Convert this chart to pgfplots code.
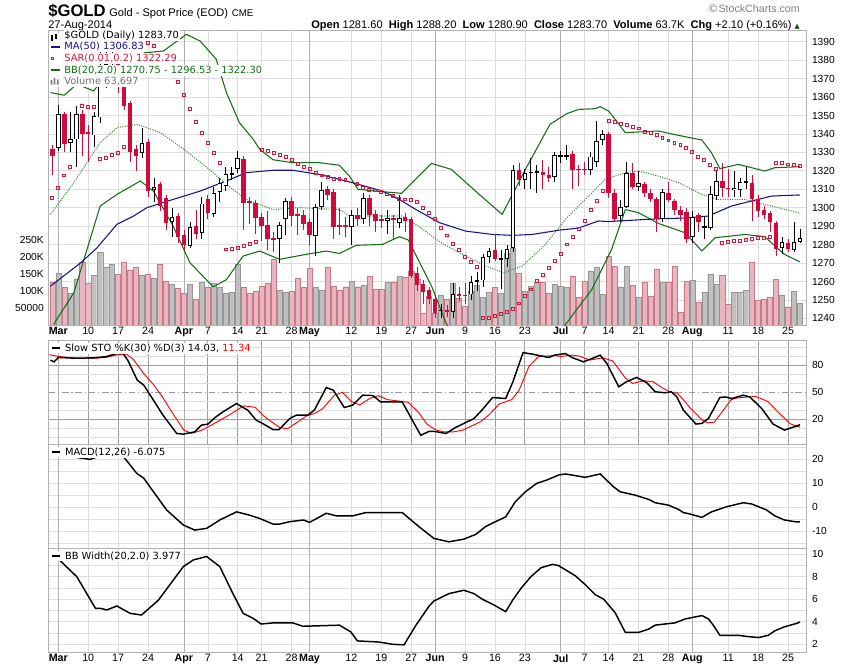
\documentclass[border=0pt]{standalone}
\usepackage{pgfplots}
\usepackage{pgfplotstable}
\pgfplotsset{compat=1.18}
\usepackage{fontspec}
\setmainfont{Liberation Sans}
\newfontfamily\dv{DejaVu Sans}
\definecolor{cred}{RGB}{210,10,60}
\definecolor{sarred}{RGB}{220,20,60}
\definecolor{bbgreen}{RGB}{20,110,20}
\definecolor{manavy}{RGB}{20,20,140}
\definecolor{gridc}{RGB}{222,222,222}
\definecolor{monthc}{RGB}{175,175,175}
\definecolor{volg}{RGB}{192,192,192}
\definecolor{volgd}{RGB}{150,150,150}
\definecolor{volp}{RGB}{232,182,190}
\definecolor{volpd}{RGB}{200,120,135}
\pgfplotstableread{
i o h l c v
0 1332 1334 1318 1328 127
1 1332.5 1355.5 1330.7 1350.6 154
2 1350.6 1352 1330 1334.4 112
3 1335.3 1352 1330 1337 94
4 1337 1355 1322 1350.6 135
5 1351 1353 1328 1339.8 185
6 1340.7 1345 1325 1340.5 123
7 1339.2 1352 1333 1349.7 147
8 1349 1385 1346 1368 215
9 1368 1385 1365 1378 171
10 1378 1392 1374 1382 179
11 1382 1384 1362 1367 150
12 1367 1369 1353 1355.2 185
13 1356.6 1358 1325 1330.2 162
14 1332 1334 1320 1328 171
15 1329.5 1343 1327 1335 147
16 1335.6 1337 1306 1309 150
17 1309.6 1316 1303 1311.4 138
18 1312.7 1314 1298 1301 179
19 1305.4 1307 1288 1291.5 129
20 1292.4 1300 1284 1295.1 120
21 1295.3 1297 1281 1284.3 109
22 1285 1288 1277 1279.6 94
23 1279.2 1292 1278 1289.7 120
24 1290 1299 1283 1286 76
25 1286.4 1306 1283 1302.2 126
26 1304.5 1307 1294 1296.9 112
27 1296.7 1311 1295 1308.1 123
28 1308.5 1316 1303 1313.2 112
29 1311.8 1322 1309 1318.4 94
30 1318.3 1322 1315 1318.6 97
31 1321 1331 1319 1327 179
32 1326.6 1328 1288 1302.7 112
33 1303.6 1306 1291 1302.4 94
34 1302.4 1304 1286 1294.6 100
35 1295 1297 1282 1290 115
36 1290.4 1298 1277 1283.2 123
37 1283.2 1287 1276 1283 194
38 1283 1292 1270 1290.8 103
39 1294 1305 1285 1303.6 97
40 1303.6 1306 1290 1295.5 100
41 1296.4 1300 1285 1295.5 138
42 1295.8 1299 1288 1291 112
43 1292 1294 1280 1285 168
44 1284.6 1302 1274 1300.5 112
45 1300.5 1314 1299 1309.6 103
46 1310 1312 1304 1307 171
47 1308.5 1310 1283 1289.5 115
48 1290.5 1300 1285 1290 103
49 1290.5 1295 1284 1290 113
50 1289.5 1299 1280 1295.8 129
51 1295.8 1300 1290 1294 113
52 1294 1308 1291 1305.4 118
53 1305.4 1307 1290 1295.8 144
54 1296.4 1299 1287 1292.8 105
55 1293.5 1296 1289 1293.3 105
56 1292.8 1299 1286 1294.6 125
57 1294 1296 1283 1293.7 125
58 1291.9 1307 1289 1294.2 144
59 1295 1297 1287 1292.8 142
60 1293.7 1295 1262 1263 160
61 1264.7 1268 1255 1257.9 134
62 1258.4 1261 1248 1254.3 36
63 1255.3 1257 1248 1250.6 85
64 1250.3 1252 1240 1242.7 36
65 1244.4 1248 1240 1244.5 88
66 1244.8 1247 1241 1243.4 76
67 1243.4 1259 1240 1253.3 123
68 1253.3 1257 1249 1252 78
69 1252.6 1259 1248 1252.4 56
70 1253 1263 1250 1259.7 101
71 1260.4 1265 1255 1260.6 118
72 1260.6 1275 1257 1273.4 81
73 1273.4 1278 1270 1276.5 98
74 1276.9 1286 1271 1272 111
75 1272.3 1277 1256 1272.3 93
76 1272.3 1280 1268 1277.8 211
77 1278.3 1323 1276 1320.4 226
78 1320.4 1324 1312 1315 154
79 1315 1321 1310 1318.6 101
80 1319 1327 1310 1319.3 115
81 1319.3 1323 1308 1319.3 127
82 1319.3 1326 1310 1317.5 125
83 1317.5 1322 1314 1316.3 95
84 1316.8 1330 1314 1328.4 121
85 1327.7 1331 1324 1328.4 115
86 1327.7 1334 1326 1328.4 111
87 1329 1331 1310 1320.4 144
88 1321 1323 1312 1320.8 83
89 1321 1325 1318 1320.6 129
90 1320.4 1330 1318 1327.7 160
91 1324.8 1347 1322 1336.2 172
92 1336.7 1342 1334 1340.1 91
93 1339.8 1341 1305 1308 203
94 1308 1310 1293 1293.7 174
95 1295.5 1304 1292 1300.5 113
96 1300.5 1325 1300 1319 174
97 1319 1324 1310 1311.4 118
98 1311.4 1320 1309 1313.2 83
99 1312.7 1314 1306 1308.1 125
100 1308.1 1310 1303 1304.5 85
101 1304.5 1306 1287 1294 166
102 1294 1310 1292 1308.5 125
103 1308 1314 1303 1304.2 125
104 1303.6 1305 1296 1298.7 174
105 1299 1301 1293 1295.8 39
106 1297.6 1300 1281 1283.2 129
107 1284.3 1298 1281 1295.1 132
108 1295.8 1297 1287 1292.2 66
109 1289.5 1295 1283 1289.5 97
110 1289.1 1312 1288 1307.2 150
111 1306.3 1320 1304 1314.5 121
112 1314.5 1324 1306 1310.8 147
113 1310.6 1321 1306 1310.3 62
114 1309.4 1320 1306 1310.5 97
115 1309.6 1316 1306 1313.9 97
116 1313.9 1322 1310 1313.9 103
117 1313.6 1318 1293 1304.9 185
118 1304.5 1307 1295 1298.2 74
119 1299 1301 1294 1295.8 76
120 1297.3 1298 1287 1292.2 83
121 1291.9 1293 1274 1277.4 136
122 1278.3 1284 1275 1281.4 89
123 1281 1283 1276 1277.4 54
124 1277.1 1292 1276 1281.4 100
125 1281.6 1288.2 1280.9 1283.7 64
}\ohlc
\pgfplotsset{
 isdown/.style={x filter/.expression={\thisrow{c}<\thisrow{o} ? x : nan}},
 isup/.style={x filter/.expression={\thisrow{c}<\thisrow{o} ? nan : x}},
 panel/.style={scale only axis, width=568.1pt, xmin=-0.64, xmax=126,
   axis line style={draw=gray!60}, tick style={draw=none},
   xtick={1,6,11,16,22,26,31,35,40,43,50,55,60,64,69,74,79,85,89,93,98,103,107,113,118,123},
   xticklabels={},
   yticklabel pos=right,
   ticklabel style={font=\fontsize{7.7}{9}\selectfont},
   /pgf/number format/assume math mode=true,
   /pgf/number format/1000 sep={},
   grid style={draw=gridc, line width=0.5pt},
   minor grid style={draw=gridc, line width=0.5pt},
   xmajorgrids, ymajorgrids,
   extra x ticks={1,22,43,64,85,107}, extra x tick labels={},
   extra x tick style={grid style={draw=monthc, line width=0.6pt}},
 },
 datelabels/.style={xticklabels={\textbf{Mar},10,17,24,\textbf{Apr},7,14,21,28,\textbf{May},12,19,27,\textbf{Jun},9,16,23,\textbf{Jul},7,14,21,28,\textbf{Aug},11,18,25},
   xticklabel style={font=\fontsize{8}{9}\selectfont, yshift=2pt}},
 wick/.style={draw=none, mark=none, forget plot, error bars/.cd, y dir=both, y explicit, error mark=none, error bar style={line width=0.55pt, draw=#1}},
 body/.style 2 args={draw=none, mark=none, forget plot, error bars/.cd, y dir=both, y explicit, error mark=none, error bar style={line width=#2, draw=#1}},
}
\begin{document}
\begin{tikzpicture}
\useasboundingbox (0,0) rectangle (637.5pt,-501pt);
% ---------- main grid
\begin{axis}[panel, at={(36.375pt,-243.75pt)}, anchor=south west, height=220.9pt,
  ymin=1236.4, ymax=1396.1, ytick={1240,1250,...,1390}, datelabels, yticklabel style={xshift=1pt}]
\end{axis}
% ---------- volume
\begin{axis}[scale only axis, width=568.1pt, height=220.9pt, at={(36.375pt,-243.75pt)}, anchor=south west,
  xmin=-0.64, xmax=126, ymin=0, ymax=870, axis lines=none, clip=true]
\addplot[isup, ybar, bar width=0.85, bar shift=0pt, fill=volg, draw=volgd, line width=0.3pt] table[x=i,y=v]{\ohlc};
\addplot[isdown, ybar, bar width=0.85, bar shift=0pt, fill=volp, draw=volpd, line width=0.3pt] table[x=i,y=v]{\ohlc};
\end{axis}
\begin{axis}[scale only axis, width=568.1pt, height=220.9pt, at={(36.375pt,-243.75pt)}, anchor=south west,
  xmin=-0.64, xmax=126, ymin=0, ymax=870, axis line style={draw=none}, tick style={draw=none}, xtick=\empty,
  ytick={50,100,150,200,250}, yticklabels={50000,100K,150K,200K,250K}, yticklabel pos=left,
  ticklabel style={font=\fontsize{7.7}{9}\selectfont}]
\end{axis}
% ---------- price
\begin{axis}[scale only axis, width=568.1pt, height=220.9pt, at={(36.375pt,-243.75pt)}, anchor=south west,
  xmin=-0.64, xmax=126, ymin=1236.4, ymax=1396.1, axis line style={draw=gray!60}, xtick=\empty, ytick=\empty, clip=true]
\addplot[bbgreen, line width=0.8pt] coordinates {(-0.3,1362.4)(2,1361)(4.1,1367)(6.9,1363.3)(9.1,1372.3)(12,1380)(15.5,1384)(18.6,1385)(22.4,1394)(24.7,1390.4)(27.4,1380.5)(29.1,1362.4)(31.3,1346)(33.6,1337)(34.7,1331.6)(36.9,1326)(40.2,1324.4)(44.7,1324.4)(48,1323)(49.7,1317)(51.1,1310)(54.1,1309)(58.4,1307.8)(63.4,1324)(66.7,1320.8)(71.1,1308)(75.2,1296.4)(79.4,1322.6)(83.2,1345.2)(86,1351)(88,1353.3)(90.8,1353.7)(91.6,1354.8)(93,1352.4)(95.8,1340.7)(101.3,1341.6)(104.7,1339.2)(108.6,1336.7)(110.2,1329.8)(111.6,1321.2)(114.7,1323.5)(119.1,1319.9)(120.8,1321.7)(124.7,1322.2)(125,1322.3)};
\addplot[bbgreen, line width=0.8pt] coordinates {(0.2,1236.7)(3.6,1253.9)(8,1300.9)(10.8,1307.2)(14.7,1314.5)(16.9,1309)(20.2,1290)(23,1270.2)(26.9,1257.1)(29.1,1261)(31.9,1273.8)(34.7,1276.5)(38,1272)(42.4,1274.7)(45.8,1276.5)(48,1275.2)(50.8,1279.6)(55.2,1280.1)(58,1284.3)(59.5,1282.5)(63.4,1257.5)(65.8,1237.6)(68,1225)(80,1210)(85.8,1236.7)(90.2,1255.7)(93.5,1277.4)(95.8,1299)(98,1297.3)(101.3,1291.5)(105.8,1286.4)(108.6,1276.5)(110.8,1283.7)(115.8,1285.5)(119.1,1284.3)(122.4,1274.7)(124.7,1271.1)(125,1270.75)};
\addplot[bbgreen!80, line width=0.8pt, densely dotted] coordinates {(-0.3,1296.4)(3.6,1313.6)(8,1335.3)(10.8,1343.4)(14.2,1345.2)(18.1,1340.7)(22,1331.6)(25.9,1321.7)(29.1,1312.7)(32.4,1304.5)(36.9,1299)(41.3,1300)(48,1299)(49.7,1295.5)(58.4,1295.5)(61.2,1290)(65,1281)(69.1,1273.8)(72.4,1268.4)(75.5,1264.7)(78.6,1268.4)(82.4,1280)(85.8,1293.7)(88,1301)(90.2,1308)(92.4,1315.4)(95.8,1319)(98,1319.9)(101.3,1317.2)(104.7,1313.6)(108.6,1307.2)(111.3,1304.5)(115.8,1304.5)(119.1,1301.8)(124.7,1297.3)(125,1296.5)};
\addplot[manavy, line width=0.8pt] coordinates {(-0.3,1257.5)(4.7,1270)(7.4,1278)(10.8,1291)(13.6,1295.5)(15.8,1300)(20.2,1304.5)(24.7,1309)(29.1,1314.5)(32.4,1319)(36.9,1320.3)(40.2,1320.3)(44.7,1318)(48,1315.4)(50.8,1313)(55.2,1309)(58,1304.5)(60.8,1299)(64.7,1291.9)(69.1,1287.3)(73.6,1285.5)(76.9,1285)(80.2,1285.5)(84.7,1287.8)(88,1289)(91.3,1292.8)(93,1292.5)(101.3,1294)(105.8,1294.4)(109.7,1295.5)(113.6,1301)(118,1304.5)(120.2,1306.3)(124.7,1306.9)(125,1306.83)};
\addplot[only marks, mark=square, mark size=1.1pt, mark options={draw=sarred, fill=white, line width=0.6pt}] coordinates {
(0,1305.4)(1,1310.8)(2,1317.5)(3,1322.2)(5,1355.2)(6,1354.8)(7,1354.8)(8,1326.6)(9,1327.1)(10,1328.4)(11,1329.8)(12,1333.1)
(16,1389.5)(17,1387.7)(19,1379.6)(21,1368.4)(22,1361.1)(23,1353.7)(24,1346.5)(25,1340.7)(26,1334.9)(27,1329.5)(28,1324.4)
(29,1277.4)(30,1277.8)(31,1278.3)(32,1279.2)(33,1280.5)(34,1281.4)
(35,1331.3)(36,1330.7)(37,1329.8)(38,1328.6)(39,1327.7)(40,1325.9)(41,1323.9)(42,1322.1)(43,1320.8)(44,1319)(45,1317.5)(46,1316.6)(47,1315.7)(48,1315.4)(49,1315)(51,1313)(52,1310.8)(53,1309.9)(54,1309.4)(55,1308.5)(56,1307.2)(57,1306.3)(58,1304.9)(59,1304.5)(60,1304.2)(61,1303.1)(62,1300)(63,1297.3)(64,1293.7)(65,1289.2)(66,1285)(67,1280.5)(68,1277)(69,1273.4)(70,1270.7)(71,1268)
(72,1240.3)(73,1240.3)(74,1241.2)(75,1242.5)(76,1243.6)(77,1245.2)(78,1248.1)(79,1252.1)(80,1255.7)(81,1260.2)(82,1263.8)(83,1267.4)(84,1271.1)(85,1275.2)(86,1280.1)(87,1284.3)(88,1288.6)(89,1292.8)(90,1298.7)(91,1303.6)(92,1309)
(93,1347)(94,1346.5)(95,1345.6)(96,1344.7)(97,1343.9)(98,1343)(99,1341.2)(100,1340.7)(101,1339.4)(102,1338)(103,1336.5)(104,1334.9)(105,1334)(106,1332.2)(107,1330.4)(108,1327.7)(109,1325.7)(110,1323.1)(111,1321.2)
(112,1281)(113,1281.4)(114,1282.1)(115,1282.1)(116,1282.5)(117,1283.2)(118,1283.7)(119,1283.7)(120,1284.3)
(121,1324.4)(122,1324.1)(123,1323.5)(124,1323.1)(125,1322.6)};
% candles
\addplot[isup, wick=black] table[x=i, y expr={(\thisrow{h}+\thisrow{l})/2}, y error expr={(\thisrow{h}-\thisrow{l})/2}]{\ohlc};
\addplot[isdown, wick=cred] table[x=i, y expr={(\thisrow{h}+\thisrow{l})/2}, y error expr={(\thisrow{h}-\thisrow{l})/2}]{\ohlc};
\addplot[isdown, body={cred}{3.4pt}] table[x=i, y expr={(\thisrow{o}+\thisrow{c})/2}, y error expr={max(abs(\thisrow{o}-\thisrow{c})/2,0.35)}]{\ohlc};
\addplot[isup, body={black}{3.4pt}] table[x=i, y expr={(\thisrow{o}+\thisrow{c})/2}, y error expr={max(abs(\thisrow{o}-\thisrow{c})/2,0.35)}]{\ohlc};
\addplot[isup, body={white}{2pt}] table[x=i, y expr={(\thisrow{o}+\thisrow{c})/2}, y error expr={max(abs(\thisrow{o}-\thisrow{c})/2-0.45,0)}]{\ohlc};
\end{axis}
% ---------- STO
\begin{axis}[panel, at={(36.375pt,-333pt)}, anchor=south west, height=77.8pt,
  ymin=-7.4, ymax=108, ytick={20,80}, grid style={draw=gray!75, line width=0.6pt},
  minor ytick={0,10,30,40,60,70,90,100}, yminorgrids,
  extra y ticks={50}, extra y tick style={grid style={draw=gray!80, dash pattern=on 5pt off 2pt on 1pt off 2pt, line width=0.6pt}},
  yticklabel style={xshift=1pt}]
\addplot[red, line width=0.7pt] coordinates {(-0.5,92)(1,90)(4,88)(7,88)(9,89)(11,92)(12.4,92.5)(13.5,87)(15.4,70)(17,58)(18.5,44)(20,28)(22,8)(23.3,4.5)(25,8)(26.3,12.5)(27.5,17)(29.6,25)(32,35)(33.9,33.5)(35.3,24)(36.5,18)(38,11)(39.3,9.5)(41,17)(42.5,23.8)(44,27)(45.2,32)(47.2,47)(48.5,50)(50,40)(51.4,36)(53,43)(54.5,46.3)(56,42)(59.5,39)(61.2,28)(62.6,15)(64,8.5)(65.5,6)(67,6)(68.6,8)(71.5,17)(73,25)(74.7,37)(76.8,42)(78,52)(79.7,79)(81.3,90)(84,91)(85,90)(86.8,91.5)(88,90.5)(89.9,86)(92,88.5)(93.7,85)(95.8,66)(97,60)(98.9,63)(100.4,62)(102,55)(103.5,50)(104.5,49)(105.5,42)(106.6,33)(108.7,19)(109.6,16)(110.7,17)(112.6,34)(113.5,42)(114.6,44)(116.5,45)(117.6,45.5)(119.6,40)(121.5,27)(123.4,15)(125,11.34)};
\addplot[black, line width=1.1pt] coordinates {(-0.3,85.9)(0.3,84)(1,88.9)(4,88)(7,88.5)(9,89.8)(10.9,93.5)(11.8,93.5)(12.6,86)(14.2,63.7)(15.3,58)(16.9,41.4)(18.5,24.7)(20.8,4.3)(21.9,3.6)(23.8,6.1)(24.9,13.5)(26,14.7)(27.2,22)(28.5,28.3)(30.8,37.6)(32.7,30.1)(34.1,19)(35.2,15.3)(36.9,8.6)(37.9,8.6)(39.7,21)(40.8,24.7)(42.7,24.7)(43.8,30.2)(45.8,55.4)(47,52.4)(48.8,33.2)(50.2,35.8)(51.9,46.9)(53.6,46.5)(54.9,39.4)(58.5,39.4)(60.2,19)(61.6,2.3)(63,6.7)(64,6.5)(65.8,4.3)(67.4,10.9)(70.5,21)(71.9,30.9)(73.6,44.3)(75.8,43.2)(77,61.7)(78.7,94.3)(80.3,92.5)(83,88.8)(83.9,91.4)(85.8,93.2)(86.9,88.8)(88.8,84)(91.6,91.4)(92.7,82.2)(94.7,56.3)(96,61.9)(97.7,66.7)(99.4,60.7)(100.8,50.7)(102.4,49.6)(103.5,50.7)(104.4,45.2)(105.5,30.3)(107.6,14.8)(108.6,15.5)(109.7,21)(111.6,44.3)(112.5,45)(113.6,43.2)(115.5,46.9)(116.6,45)(118.6,32.1)(120.5,14.8)(122.4,8.1)(124.4,12.5)(125,14.03)};
\end{axis}
% ---------- MACD
\begin{axis}[panel, at={(36.375pt,-411.2pt)}, anchor=south west, height=78.2pt,
  ymin=-17.1, ymax=26.4, ytick={-10,0,10,20}, minor ytick={-15,-5,5,15,25}, yminorgrids, yticklabel style={xshift=1pt}]
\addplot[black, line width=1.1pt] coordinates {(0,21.5)(3.3,21.1)(6.3,20)(8.5,21.8)(11.9,21.1)(14.1,14.2)(15.3,12.1)(16.9,6.5)(19.1,-1.1)(21.9,-7.4)(23.8,-9.5)(25.8,-8.8)(28,-5.3)(30.8,-1.9)(33,-3.3)(34.7,-4.7)(36.9,-7)(38,-7)(39.7,-6)(42,-5.3)(43,-6.3)(45.8,-2.5)(47.5,-3.6)(50.2,-3.6)(52.4,-2.2)(58.5,-2.2)(61.3,-8.1)(63.8,-13)(66.3,-14.4)(68.8,-13.3)(70.8,-11.3)(72.4,-8.1)(74.1,-6)(75.8,-4)(77.4,2.3)(79.1,6.5)(81,10)(82.7,11.4)(84.7,13.5)(85.8,13.9)(89.1,12.5)(91.6,13.9)(93.8,8.6)(94.9,6.5)(97.4,5.1)(99.7,3.3)(100.8,1.9)(103,0.9)(104.7,-0.9)(105.5,-2.2)(106.6,-2.8)(108.6,-4.2)(110.2,-1.9)(112.7,0.2)(115.5,1.9)(116.9,1.4)(119.4,-1.1)(120.8,-3.6)(122.4,-5.3)(124.4,-6.1)(125,-6.075)};
\end{axis}
% ---------- BB width
\begin{axis}[panel, at={(36.375pt,-489.2pt)}, anchor=south west, height=78pt,
  ymin=1.29, ymax=10.53, ytick={2,4,6,8,10}, minor ytick={3,5,7,9}, yminorgrids, datelabels, yticklabel style={xshift=1pt}]
\addplot[black, line width=1.1pt] coordinates {(1.3,9.43)(4.1,8.0)(7.2,5.2)(8,5.2)(9.1,5.05)(10.8,5.4)(13,4.75)(14.9,4.6)(17.7,5.9)(21.9,8.9)(23.6,9.5)(25.8,9.8)(28,8.9)(30.2,6.5)(31.9,4.75)(33.6,4.3)(34.9,3.8)(36.9,3.9)(40.2,3.9)(41.9,3.6)(48,3.7)(49.9,3.1)(51,2.3)(54.6,2.2)(56.9,2.0)(58.8,1.95)(60.8,3.7)(63,5.4)(63.8,5.85)(66.3,6.5)(68.8,6.8)(70.5,6.5)(71.9,6.0)(73.8,5.5)(75.8,4.9)(77,5.95)(78.4,7.0)(80,8.0)(81.7,8.8)(83.6,9.1)(84.6,9.0)(87.4,8.1)(89.1,7.3)(90.8,6.4)(92.2,6.0)(94.1,4.8)(95.8,3.05)(98,3.05)(99.7,3.35)(100.8,3.7)(102.4,3.8)(104.1,3.9)(105.8,4.25)(108.6,4.55)(109.7,4.25)(110.5,3.7)(111.6,2.8)(114.7,2.8)(116,2.7)(118.1,2.6)(119.7,2.8)(120.8,3.2)(122.4,3.55)(124.4,3.85)(125,3.977)};
\end{axis}
% ---------- header and legends
\node[anchor=base west, inner sep=0] at (36pt,-12pt) {{\fontsize{12.5}{13}\selectfont\bfseries \$GOLD}\ {\fontsize{8.3}{10}\selectfont Gold - Spot Price (EOD)}\ {\fontsize{7.3}{9}\selectfont CME}};
\node[anchor=base west, inner sep=0] at (36pt,-21pt) {\fontsize{8.3}{10}\selectfont 27-Aug-2014};
\node[anchor=base east, inner sep=0] at (600pt,-21pt) {\fontsize{8.3}{10}\selectfont \textbf{Open} 1281.60\ \ \textbf{High} 1288.20\ \ \textbf{Low} 1280.90\ \ \textbf{Close} 1283.70\ \ \textbf{Volume} 63.7K\ \ \textbf{Chg} +2.10 (+0.16\%) {\dv\color{bbgreen!70!black}\fontsize{5}{6}\selectfont ▲}};
\node[anchor=base east, inner sep=0, text=gray] at (600pt,-9.5pt) {\fontsize{8}{10}\selectfont {\dv ©}StockCharts.com};
\begin{scope}[font=\dv\fontsize{7.4}{9}\selectfont, every node/.style={fill=white, inner sep=0.6pt, anchor=base west, text depth=1.5pt}]
\node at (47.5pt,-28.5pt) {\$GOLD (Daily) 1283.70};
\node[text=manavy] at (47.5pt,-37.2pt) {MA(50) 1306.83};
\node[text=sarred] at (47.5pt,-46.1pt) {SAR(0.01,0.2) 1322.29};
\node[text=bbgreen] at (47.5pt,-54.8pt) {BB(20,2.0) 1270.75 - 1296.53 - 1322.30};
\node[text=gray!90!black] at (47.5pt,-63.5pt) {Volume 63,697};
\node at (48pt,-263.5pt) {Slow STO \%K(30) \%D(3) 14.03, \textcolor{red}{11.34}};
\node at (48pt,-341.5pt) {MACD(12,26) -6.075};
\node at (48pt,-419.5pt) {BB Width(20,2.0) 3.977};
\end{scope}
\fill[white] (37pt,-65pt) rectangle (47.5pt,-24.5pt);
\fill[white] (37pt,-265pt) rectangle (48pt,-257pt);
\fill[white] (37pt,-343pt) rectangle (48pt,-335pt);
\fill[white] (37pt,-421pt) rectangle (48pt,-413pt);
\draw[black, line width=1pt] (39pt,-26.5pt) -- (39pt,-30.5pt); \draw[black, line width=1pt] (42pt,-25.5pt) -- (42pt,-29.5pt);
\draw[manavy, line width=1.3pt] (38pt,-35pt) -- (45pt,-35pt);
\draw[sarred, line width=0.6pt, fill=white] (38.3pt,-44.8pt) rectangle (40.3pt,-42.8pt);
\draw[bbgreen, line width=1.3pt] (38pt,-52.6pt) -- (45pt,-52.6pt);
\fill[gray] (38pt,-63.5pt) rectangle (39.3pt,-60pt) (40.3pt,-63.5pt) rectangle (41.6pt,-58.5pt) (42.6pt,-63.5pt) rectangle (43.9pt,-59.5pt);
\draw[black, line width=1.3pt] (39pt,-261pt) -- (45pt,-261pt);
\draw[black, line width=1.3pt] (39pt,-339pt) -- (45pt,-339pt);
\draw[black, line width=1.3pt] (39pt,-417pt) -- (45pt,-417pt);
\end{tikzpicture}
\end{document}
